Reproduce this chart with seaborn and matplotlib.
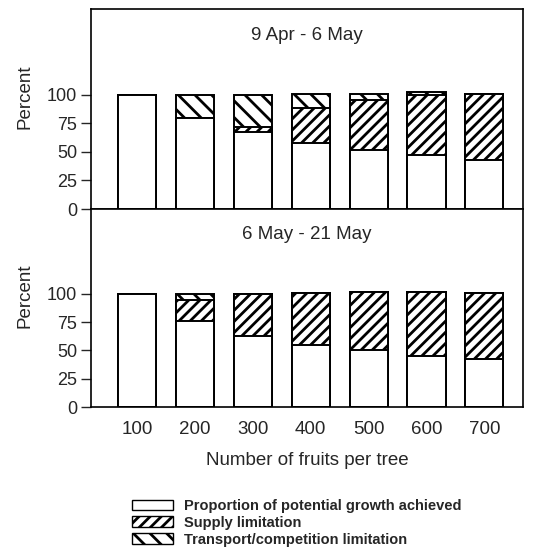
# Stacked bar chart: fruit growth limitation by crop load, two periods
import pandas as pd
import matplotlib
matplotlib.use("Agg")
import matplotlib.pyplot as plt
import seaborn as sns
from matplotlib.patches import Patch

sns.set_theme(style="ticks")
plt.rcParams["font.family"] = ["Liberation Sans", "DejaVu Sans"]
plt.rcParams["hatch.linewidth"] = 2.0
plt.rcParams["hatch.color"] = "black"

# Data (percent)
fruits = ["100", "200", "300", "400", "500", "600", "700"]

# 9 Apr - 6 May
achieved_1 = [100, 80, 67, 58, 52, 47, 43]
supply_1 = [0, 0, 5, 30, 43, 53, 58]
transport_1 = [0, 20, 28, 13, 6, 2, 0]

# 6 May - 21 May
achieved_2 = [100, 76, 63, 55, 50, 45, 42]
supply_2 = [0, 19, 37, 46, 52, 57, 59]
transport_2 = [0, 5, 0, 0, 0, 0, 0]

periods = ["9 Apr - 6 May", "6 May - 21 May"]
labels = ["Proportion of potential growth achieved",
          "Supply limitation",
          "Transport/competition limitation"]

fig = plt.figure(figsize=(5.33, 5.59), dpi=100)
ax_top = fig.add_axes([91 / 533, 1 - 209 / 559, 432 / 533, 200 / 559])
ax_bot = fig.add_axes([91 / 533, 1 - 407 / 559, 432 / 533, 198 / 559])

panels = [(ax_top, achieved_1, supply_1, transport_1, periods[0]),
          (ax_bot, achieved_2, supply_2, transport_2, periods[1])]

for ax, ach, sup, tra, title in panels:
    df = pd.DataFrame({"fruits": fruits, "achieved": ach,
                       "supply": sup, "transport": tra})
    df["s_top"] = df["achieved"] + df["supply"]
    df["t_top"] = df["s_top"] + df["transport"]

    # draw cumulative bars from the tallest down so each layer covers the one below
    bar_kw = dict(x="fruits", order=fruits, data=df, ax=ax, width=0.66,
                  color="white", saturation=1, edgecolor="black", linewidth=1.4,
                  errorbar=None)
    sns.barplot(y="t_top", hatch="\\\\", **bar_kw)
    sns.barplot(y="s_top", hatch="///", **bar_kw)
    sns.barplot(y="achieved", **bar_kw)

    ax.set_ylim(0, 175)
    ax.set_xlim(-0.8, 6.67)
    ax.set_yticks([0, 25, 50, 75, 100])
    ax.tick_params(axis="y", direction="out", length=7, width=1, pad=3,
                   labelsize=13)
    ax.tick_params(axis="x", length=0, pad=10, labelsize=13.5)
    ax.set_xlabel("")
    ax.set_ylabel("Percent", fontsize=13.5)
    ax.yaxis.set_label_coords(-0.134, 0.56)
    for sp in ax.spines.values():
        sp.set_linewidth(1.2)
        sp.set_color("black")
    ax.text(0.5, 0.87, title, transform=ax.transAxes, ha="center",
            va="center", fontsize=13.5)

ax_top.set_xticklabels([])
ax_bot.set_xlabel("Number of fruits per tree", fontsize=13.5, labelpad=10)

handles = [Patch(facecolor="white", edgecolor="black", linewidth=1.0),
           Patch(facecolor="white", edgecolor="black", linewidth=1.0, hatch="///"),
           Patch(facecolor="white", edgecolor="black", linewidth=1.0, hatch="\\\\")]
fig.legend(handles, labels, loc="upper left",
           bbox_to_anchor=(132 / 533, 1 - 499 / 559), frameon=False,
           borderpad=0, borderaxespad=0, handlelength=2.8, handleheight=0.75,
           handletextpad=0.8, labelspacing=0.2,
           prop={"size": 10.5, "weight": "bold"})

fig.savefig("out.png", dpi=100)
